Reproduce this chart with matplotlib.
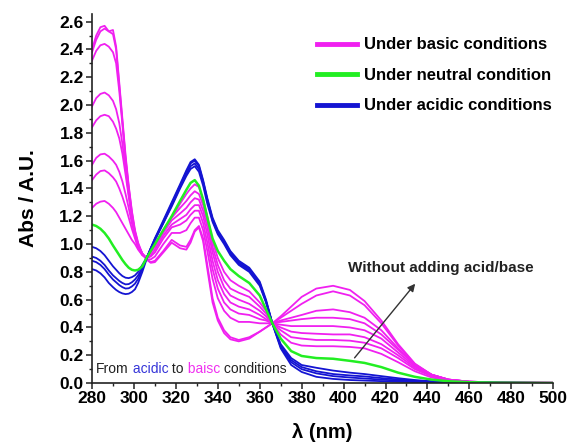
import matplotlib
matplotlib.use('Agg')
import matplotlib.pyplot as plt
from matplotlib.lines import Line2D
from matplotlib.ticker import MultipleLocator, FormatStrFormatter

plt.rcParams['font.family'] = ['Liberation Sans', 'DejaVu Sans']

# wavelength grid (nm)
wl = [280, 282, 284, 286, 288, 290, 291.5, 293, 294.5, 296, 297.5, 299, 300.5, 302, 304, 306,
      308, 310, 314, 318, 322, 325, 327, 329, 331, 333, 335, 337.5, 340, 343, 346, 350,
      355, 360, 363, 366, 370, 375, 380, 387, 395, 403, 410, 418, 426, 434, 442, 450,
      460, 475, 500]

# acidic spectra
acid_1 = [0.82, 0.81, 0.79, 0.76, 0.72, 0.69, 0.67, 0.655, 0.645, 0.64, 0.643, 0.655, 0.675, 0.72, 0.80, 0.89,
          0.97, 1.04, 1.17, 1.30, 1.43, 1.53, 1.59, 1.61, 1.57, 1.46, 1.33, 1.19, 1.10, 1.03, 0.95, 0.88,
          0.83, 0.73, 0.60, 0.43, 0.25, 0.13, 0.08, 0.045, 0.03, 0.022, 0.018, 0.014, 0.01, 0.007, 0.005, 0.004,
          0.003, 0.002, 0.001]
acid_2 = [0.88, 0.87, 0.85, 0.82, 0.78, 0.745, 0.725, 0.705, 0.69, 0.68, 0.682, 0.695, 0.715, 0.75, 0.82, 0.90,
          0.97, 1.04, 1.16, 1.29, 1.42, 1.52, 1.58, 1.60, 1.56, 1.45, 1.32, 1.18, 1.09, 1.02, 0.94, 0.87,
          0.82, 0.72, 0.59, 0.43, 0.26, 0.15, 0.10, 0.07, 0.05, 0.04, 0.033, 0.025, 0.018, 0.012, 0.008, 0.005,
          0.003, 0.002, 0.001]
acid_3 = [0.91, 0.90, 0.88, 0.85, 0.81, 0.775, 0.755, 0.735, 0.72, 0.71, 0.712, 0.725, 0.745, 0.775, 0.83, 0.90,
          0.965, 1.03, 1.15, 1.28, 1.41, 1.50, 1.56, 1.58, 1.54, 1.44, 1.31, 1.17, 1.08, 1.01, 0.93, 0.86,
          0.81, 0.71, 0.585, 0.43, 0.27, 0.165, 0.115, 0.085, 0.065, 0.055, 0.048, 0.036, 0.026, 0.017, 0.01, 0.006,
          0.004, 0.002, 0.001]
acid_4 = [0.98, 0.97, 0.95, 0.92, 0.88, 0.84, 0.815, 0.79, 0.77, 0.758, 0.755, 0.762, 0.775, 0.80, 0.85, 0.90,
          0.965, 1.03, 1.15, 1.27, 1.40, 1.49, 1.54, 1.56, 1.52, 1.42, 1.29, 1.16, 1.07, 1.00, 0.92, 0.85,
          0.80, 0.70, 0.58, 0.43, 0.28, 0.18, 0.13, 0.11, 0.09, 0.075, 0.065, 0.05, 0.035, 0.022, 0.013, 0.007,
          0.004, 0.002, 0.001]

# neutral spectrum (no acid/base added)
neutral = [1.14, 1.13, 1.11, 1.08, 1.04, 0.99, 0.955, 0.92, 0.885, 0.855, 0.83, 0.815, 0.81, 0.815, 0.84, 0.90,
           0.95, 1.00, 1.10, 1.20, 1.31, 1.39, 1.44, 1.46, 1.42, 1.32, 1.19, 1.04, 0.95, 0.88, 0.82, 0.77,
           0.72, 0.63, 0.53, 0.43, 0.32, 0.23, 0.195, 0.18, 0.175, 0.16, 0.145, 0.115, 0.075, 0.045, 0.025, 0.013,
           0.006, 0.003, 0.001]

# basic spectra
basic_1 = [2.40, 2.50, 2.56, 2.57, 2.53, 2.54, 2.42, 2.16, 1.90, 1.64, 1.42, 1.24, 1.10, 1.01, 0.93, 0.89,
           0.865, 0.87, 0.94, 1.01, 0.97, 0.96, 1.01, 1.09, 1.12, 1.02, 0.82, 0.58, 0.45, 0.36, 0.315, 0.30,
           0.32, 0.37, 0.40, 0.43, 0.48, 0.55, 0.62, 0.68, 0.70, 0.67, 0.59, 0.45, 0.28, 0.14, 0.06, 0.025,
           0.01, 0.004, 0.002]
basic_2 = [2.38, 2.47, 2.53, 2.55, 2.53, 2.51, 2.40, 2.14, 1.88, 1.62, 1.41, 1.23, 1.09, 1.00, 0.93, 0.89,
           0.87, 0.88, 0.95, 1.03, 0.99, 0.98, 1.03, 1.10, 1.13, 1.04, 0.85, 0.61, 0.47, 0.38, 0.33, 0.31,
           0.33, 0.37, 0.40, 0.43, 0.47, 0.52, 0.57, 0.63, 0.66, 0.63, 0.56, 0.43, 0.27, 0.135, 0.06, 0.025,
           0.01, 0.004, 0.002]
basic_3 = [2.32, 2.39, 2.43, 2.44, 2.42, 2.38, 2.30, 2.10, 1.86, 1.60, 1.39, 1.21, 1.08, 0.99, 0.93, 0.89,
           0.89, 0.91, 1.00, 1.08, 1.08, 1.10, 1.15, 1.19, 1.19, 1.10, 0.95, 0.75, 0.61, 0.52, 0.47, 0.44,
           0.44, 0.43, 0.43, 0.43, 0.45, 0.47, 0.49, 0.52, 0.53, 0.51, 0.47, 0.38, 0.25, 0.13, 0.06, 0.025,
           0.01, 0.004, 0.002]
basic_4 = [1.99, 2.05, 2.08, 2.09, 2.07, 2.03, 1.97, 1.87, 1.72, 1.54, 1.36, 1.20, 1.08, 0.99, 0.93, 0.90,
           0.91, 0.94, 1.04, 1.12, 1.14, 1.17, 1.21, 1.24, 1.24, 1.15, 1.01, 0.82, 0.68, 0.58, 0.53, 0.50,
           0.49, 0.46, 0.45, 0.43, 0.44, 0.45, 0.46, 0.47, 0.47, 0.46, 0.43, 0.35, 0.24, 0.13, 0.06, 0.025,
           0.01, 0.004, 0.002]
basic_5 = [1.84, 1.89, 1.92, 1.93, 1.92, 1.88, 1.83, 1.76, 1.65, 1.50, 1.34, 1.19, 1.07, 0.99, 0.93, 0.90,
           0.92, 0.96, 1.06, 1.14, 1.18, 1.21, 1.25, 1.28, 1.28, 1.20, 1.07, 0.88, 0.74, 0.64, 0.58, 0.55,
           0.53, 0.49, 0.46, 0.43, 0.42, 0.41, 0.41, 0.41, 0.41, 0.40, 0.38, 0.32, 0.22, 0.12, 0.06, 0.025,
           0.01, 0.004, 0.002]
basic_6 = [1.57, 1.62, 1.645, 1.65, 1.63, 1.60, 1.57, 1.52, 1.45, 1.36, 1.26, 1.15, 1.06, 0.98, 0.93, 0.90,
           0.94, 0.98, 1.08, 1.17, 1.22, 1.26, 1.30, 1.33, 1.32, 1.24, 1.12, 0.94, 0.80, 0.69, 0.63, 0.60,
           0.57, 0.52, 0.48, 0.43, 0.40, 0.37, 0.36, 0.355, 0.35, 0.35, 0.33, 0.28, 0.20, 0.11, 0.055, 0.022,
           0.009, 0.004, 0.002]
basic_7 = [1.46, 1.50, 1.525, 1.53, 1.51, 1.48, 1.45, 1.40, 1.34, 1.27, 1.19, 1.11, 1.04, 0.97, 0.92, 0.90,
           0.945, 0.99, 1.10, 1.19, 1.26, 1.31, 1.35, 1.38, 1.36, 1.28, 1.16, 0.98, 0.85, 0.74, 0.68, 0.65,
           0.62, 0.55, 0.50, 0.43, 0.38, 0.33, 0.32, 0.31, 0.31, 0.305, 0.29, 0.25, 0.18, 0.10, 0.05, 0.02,
           0.008, 0.003, 0.002]
basic_8 = [1.26, 1.29, 1.305, 1.31, 1.29, 1.26, 1.23, 1.19, 1.15, 1.11, 1.07, 1.03, 1.00, 0.96, 0.92, 0.90,
           0.95, 1.00, 1.10, 1.19, 1.29, 1.36, 1.40, 1.43, 1.41, 1.32, 1.20, 1.02, 0.90, 0.80, 0.74, 0.70,
           0.66, 0.58, 0.52, 0.43, 0.35, 0.29, 0.27, 0.265, 0.265, 0.26, 0.25, 0.21, 0.15, 0.085, 0.04, 0.018,
           0.007, 0.003, 0.002]

acid_series = [acid_1, acid_2, acid_3, acid_4]
basic_series = [basic_1, basic_2, basic_3, basic_4, basic_5, basic_6, basic_7, basic_8]

legend_labels = ['Under basic conditions', 'Under neutral condition', 'Under acidic conditions']

c_basic = '#f020f0'
c_neutral = '#22ee22'
c_acid = '#1414d2'

fig = plt.figure(figsize=(5.68, 4.47), dpi=100)
ax = fig.add_axes([0.162, 0.143, 0.812, 0.826])

for s in basic_series:
    ax.plot(wl, s, color=c_basic, lw=1.3)
for s in acid_series:
    ax.plot(wl, s, color=c_acid, lw=1.3)
ax.plot(wl, neutral, color=c_neutral, lw=1.8)

ax.set_xlim(280, 500)
ax.set_ylim(0, 2.656)
ax.xaxis.set_major_locator(MultipleLocator(20))
ax.xaxis.set_minor_locator(MultipleLocator(10))
ax.yaxis.set_major_locator(MultipleLocator(0.2))
ax.yaxis.set_minor_locator(MultipleLocator(0.1))
ax.yaxis.set_major_formatter(FormatStrFormatter('%.1f'))

for side in ['top', 'right']:
    ax.spines[side].set_visible(False)
for side in ['left', 'bottom']:
    ax.spines[side].set_linewidth(1.2)
    ax.spines[side].set_color('#222222')

ax.tick_params(which='major', direction='out', length=4, width=1.1, color='#222222',
               labelsize=12.5, pad=2)
ax.tick_params(which='minor', direction='out', length=2.5, width=1.0, color='#222222')
for lab in ax.get_xticklabels() + ax.get_yticklabels():
    lab.set_fontweight('bold')

ax.set_xlabel('λ (nm)', fontsize=14.5, fontweight='bold', labelpad=12)
ax.set_ylabel('Abs / A.U.', fontsize=15, fontweight='bold', labelpad=15)

handles = [Line2D([], [], color=c_basic, lw=3.5),
           Line2D([], [], color=c_neutral, lw=3.5),
           Line2D([], [], color=c_acid, lw=3.5)]
ax.legend(handles, legend_labels, loc='upper left', bbox_to_anchor=(0.488, 0.936),
          frameon=False, handlelength=2.4, handletextpad=0.42, labelspacing=0.93,
          borderpad=0, borderaxespad=0, prop={'weight': 'bold', 'size': 12})

# multicoloured note in lower left corner
pieces = [('From', '#222222'), (' acidic', '#3535d8'), (' to', '#222222'),
          (' baisc', '#f030f0'), (' conditions', '#222222')]
t = ax.text(0.009, 0.018, pieces[0][0], transform=ax.transAxes, color=pieces[0][1],
            fontsize=10, va='bottom')
for txt, col in pieces[1:]:
    t = ax.annotate(txt, xycoords=t, xy=(1, 0), va='bottom', color=col, fontsize=10)

arrow_tail = (404.4, 0.166)
arrow_head = (435, 0.73)
ax.annotate('', xy=arrow_head, xytext=arrow_tail,
            arrowprops=dict(arrowstyle='-|>', color='#333333', lw=1.0, mutation_scale=11))
ax.text(446.6, 0.83, 'Without adding acid/base', ha='center', va='center',
        fontsize=11, fontweight='bold', color='#222222')

fig.savefig('out.png', dpi=100)
